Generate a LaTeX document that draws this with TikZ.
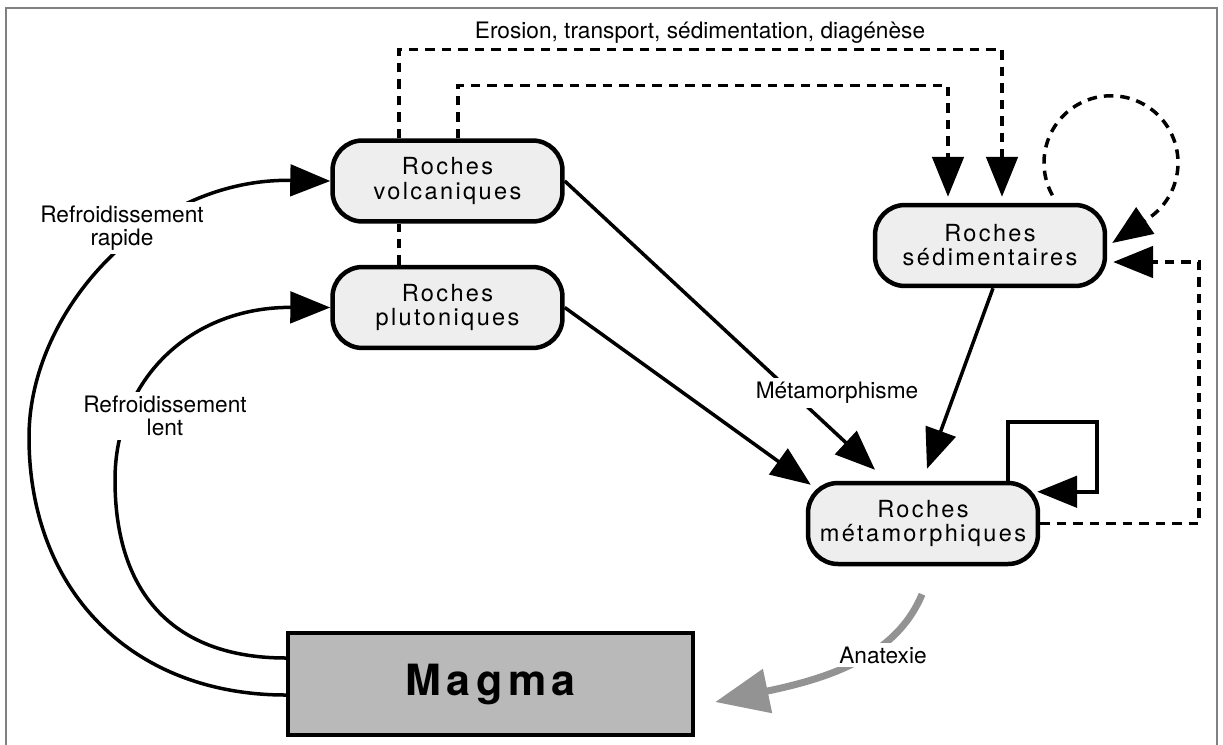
\documentclass[tikz,border=0pt]{standalone}
\usepackage{fontspec}
\setmainfont{TeX Gyre Heros}
\newfontfamily\boxfont[LetterSpace=10]{TeX Gyre Heros}
\newfontfamily\magmafont[LetterSpace=13]{TeX Gyre Heros}
\usetikzlibrary{arrows.meta,calc}
\definecolor{rockfill}{HTML}{EEEEEE}
\definecolor{magmafill}{HTML}{B9B9B9}
\definecolor{anagray}{HTML}{939393}
\definecolor{framegray}{HTML}{808080}
\begin{document}
\begin{tikzpicture}[x=0.02cm,y=-0.02cm,
  rock/.style={draw, line width=0.09cm, fill=rockfill, rounded corners=0.6cm,
    minimum width=4.6cm, minimum height=1.62cm, inner sep=0pt, align=center,
    font=\boxfont\fontsize{13.4pt}{13.7pt}\selectfont},
  magmabox/.style={draw, line width=0.09cm, fill=magmafill,
    minimum width=8.1cm, minimum height=2.04cm, inner sep=0pt,
    font=\magmafont\bfseries\fontsize{24.5pt}{26pt}\selectfont},
  conn/.style={line width=0.07cm, -{Triangle[length=0.8cm,width=0.63cm]}},
  dconn/.style={conn, dash pattern=on 0.19cm off 0.14cm},
  dline/.style={line width=0.07cm, dash pattern=on 0.19cm off 0.14cm},
  lbl/.style={fill=white, inner sep=0.08cm, align=center,
    font=\fontsize{12.9pt}{13.1pt}\selectfont},
  ana/.style={line width=0.14cm, draw=anagray,
    -{Triangle[length=1.07cm,width=0.87cm,fill=anagray]}}
]
\useasboundingbox (0,0) rectangle (1223,744);
\draw[framegray, line width=0.04cm] (6,8) rectangle (1217,748);

% nodes
\node[rock] (volc) at (447.5,181) {Roches\\volcaniques};
\node[rock] (plut) at (447.5,307.5) {Roches\\plutoniques};
\node[rock] (sed) at (990,245.5) {Roches\\sédimentaires};
\node[rock] (meta) at (923,523.5) {Roches\\métamorphiques};
\node[magmabox] (magma) at (490.5,684) {Magma};

% cooling curves
\draw[conn] ($(magma.west)+(0,11)$) .. controls (133,695) and (29,592) .. (29,437)
  .. controls (29,310) and (150,178) .. (volc.west);
\draw[conn] ($(magma.west)+(0,-26)$) .. controls (176,658) and (115,596) .. (115,480)
  .. controls (115,380) and (190,307) .. (plut.west);

% metamorphism
\draw[conn] (volc.east) -- ($(meta.north)+(-48,-11)$);
\draw[conn] (plut.east) -- ($(meta.north west)+(5,4)$);
\draw[conn] ($(sed.south)+(3,0)$) -- ($(meta.north)+(4,-12)$);

% erosion (dashed)
\draw[dconn] ($(volc.north)+(-48.5,0)$) -- ++(0,-89) -| ($(sed.north)+(12,-6)$);
\draw[dconn] ($(volc.north)+(10.5,0)$) -- ++(0,-53) -| ($(sed.north)+(-42,-6)$);
\draw[dline] ($(plut.north)+(-48.5,0)$) -- ($(volc.south)+(-48.5,0)$);

% loops
\draw[conn] ($(meta.north)+(85,0)$) -- ++(0,-59) -- ++(89,0) -- ++(0,70)
  -- ($(meta.north east)+(-3,11)$);
\draw[dconn] (meta.east) -- ++(159,0) |- ($(sed.east)+(6,16.5)$);
\draw[dconn] ($(sed.north)+(62.4,-7.5)$) arc[start angle=151, end angle=417, radius=67]
  -- ($(sed.east)+(5,-2.5)$);

% anatexie
\draw[ana] ($(meta.south)+(-1,28)$) .. controls (895,660) and (820,680) .. ($(magma.east)+(20,18)$);

% labels
\node[lbl] (rapide) at (122,228) {Refroidissement\\rapide};
\node[lbl] (lent) at (165,416) {Refroidissement\\lent};
\node[lbl] (metam) at (837,393) {Métamorphisme};
\node[lbl] (anat) at (883,655) {Anatexie};
\node[lbl, fill=none] (eros) at (700,33) {Erosion, transport, sédimentation, diagénèse};
\end{tikzpicture}
\end{document}
